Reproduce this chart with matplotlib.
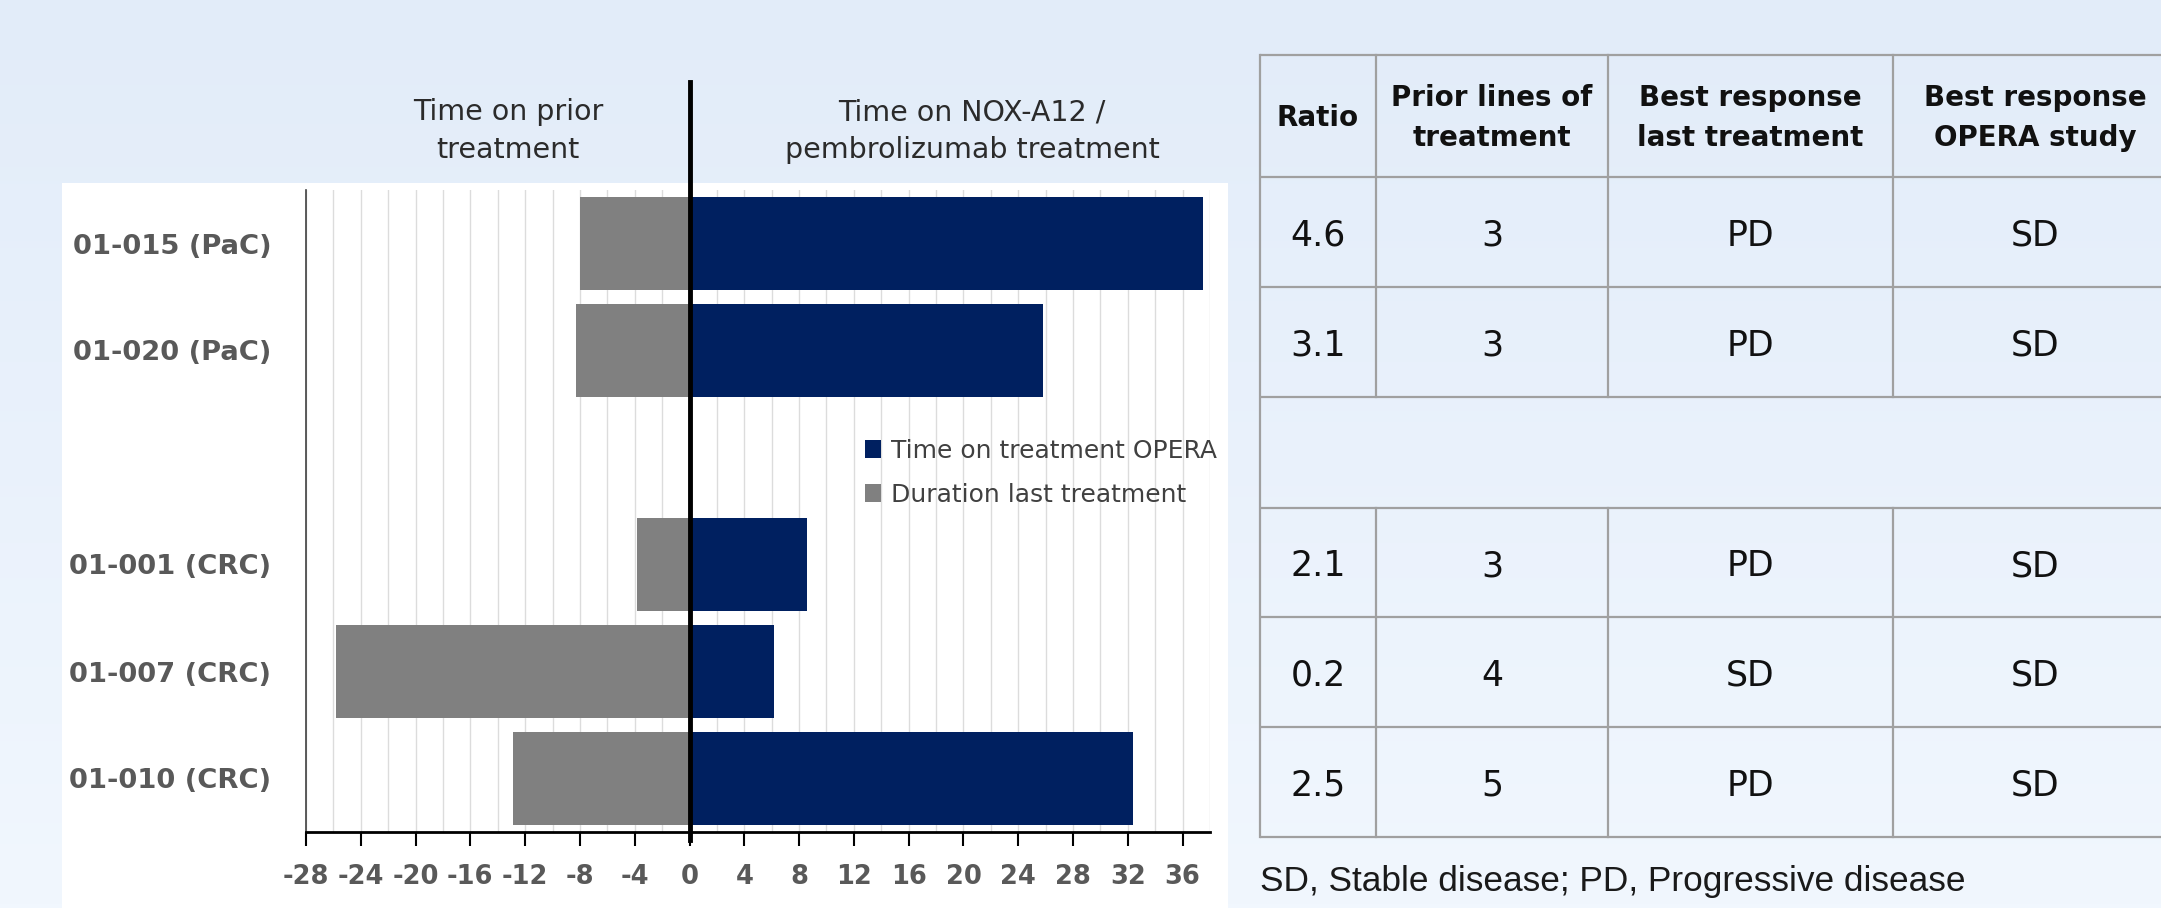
import numpy as np
import matplotlib
matplotlib.use("Agg")
import matplotlib.pyplot as plt
from matplotlib.patches import Rectangle

# ---------------- data ----------------
patients = ["01-015 (PaC)", "01-020 (PaC)", "", "01-001 (CRC)", "01-007 (CRC)", "01-010 (CRC)"]
time_opera = [37.5, 25.8, np.nan, 8.6, 6.2, 32.4]          # months on NOX-A12 / pembrolizumab
duration_last = [8.0, 8.3, np.nan, 3.8, 25.8, 12.9]        # months on prior treatment
x_ticks = list(range(-28, 37, 4))

table_header = ["Ratio", "Prior lines of\ntreatment", "Best response\nlast treatment", "Best response\nOPERA study"]
tbl_ratio = ["4.6", "3.1", None, "2.1", "0.2", "2.5"]
tbl_prior_lines = ["3", "3", None, "3", "4", "5"]
tbl_best_last = ["PD", "PD", None, "PD", "SD", "PD"]
tbl_best_opera = ["SD", "SD", None, "SD", "SD", "SD"]
footnote = "SD, Stable disease; PD, Progressive disease"

legend_labels = ["Time on treatment OPERA", "Duration last treatment"]

BLUE = "#002060"
GRAY = "#808080"

W, H = 2161, 908
fig = plt.figure(figsize=(W / 100, H / 100), dpi=100)

# ---------------- background overlay (pixel coordinates) ----------------
bg = fig.add_axes([0, 0, 1, 1], zorder=0)
bg.set_xlim(0, W)
bg.set_ylim(H, 0)
bg.axis("off")
top_c = np.array([226, 236, 249]) / 255
bot_c = np.array([241, 247, 254]) / 255
t = np.linspace(0, 1, 256)[:, None]
grad = top_c[None, None, :] * (1 - t[:, :, None]) + bot_c[None, None, :] * t[:, :, None]
grad = np.repeat(grad, 2, axis=1)
bg.imshow(grad, extent=(0, W, H, 0), aspect="auto", zorder=0)
bg.add_patch(Rectangle((62, 183), 1228 - 62, H - 183, facecolor="white", edgecolor="none", zorder=1))

# titles above chart
bg.text(508, 131, "Time on prior\ntreatment", ha="center", va="center", fontsize=20.5,
        color="#2b2b2b", linespacing=1.45, zorder=2)
bg.text(972, 131, "Time on NOX-A12 /\npembrolizumab treatment", ha="center", va="center",
        fontsize=20.5, color="#2b2b2b", linespacing=1.45, zorder=2)

# ---------------- table ----------------
col_x = [1260, 1376, 1608, 1893, 2177]
row_y = [55, 177, 287, 397, 508, 617, 727, 837]
lc = "#A0A0A0"
lw = 1.6
for y in row_y:
    bg.plot([col_x[0], col_x[-1]], [y, y], color=lc, lw=lw, zorder=2, solid_capstyle="butt")
bg.plot([col_x[0], col_x[0]], [row_y[0], row_y[-1]], color=lc, lw=lw, zorder=2)
for cx in col_x[1:]:
    # no inner verticals in the empty (merged) row
    bg.plot([cx, cx], [row_y[0], row_y[3]], color=lc, lw=lw, zorder=2)
    bg.plot([cx, cx], [row_y[4], row_y[-1]], color=lc, lw=lw, zorder=2)

centers_x = [(col_x[i] + col_x[i + 1]) / 2 for i in range(4)]
for i, h in enumerate(table_header):
    bg.text(centers_x[i], (row_y[0] + row_y[1]) / 2 + 2, h, ha="center", va="center",
            fontsize=20, fontweight="bold", color="#111111", linespacing=1.5, zorder=3)

columns = [tbl_ratio, tbl_prior_lines, tbl_best_last, tbl_best_opera]
for r in range(6):
    yc = (row_y[r + 1] + row_y[r + 2]) / 2 + 4
    for c, col in enumerate(columns):
        if col[r] is not None:
            bg.text(centers_x[c], yc, col[r], ha="center", va="center", fontsize=25,
                    color="#111111", zorder=3)

bg.text(1260, 882, footnote, ha="left", va="center", fontsize=25.4, color="#1a1a1a",
        family=["Liberation Sans", "DejaVu Sans"], zorder=3)

# ---------------- chart ----------------
ax = fig.add_axes([306 / W, 1 - 832 / H, (1210 - 306) / W, (832 - 190) / H], zorder=1)
ax.set_facecolor("white")
ypos = np.arange(len(patients))
ax.barh(ypos, time_opera, height=0.87, color=BLUE, zorder=3, label=legend_labels[0])
ax.barh(ypos, -np.array(duration_last), height=0.87, color=GRAY, zorder=3, label=legend_labels[1])

ax.set_xlim(-28, 38)
ax.set_ylim(len(patients) - 0.5, -0.5)
ax.set_xticks(x_ticks)
ax.set_xticks(np.arange(-28, 39, 2), minor=True)
ax.set_xticklabels([str(v) for v in x_ticks])
ax.set_yticks(ypos)
ax.set_yticklabels(patients)
ax.grid(True, axis="x", which="both", color="#DCDCDC", lw=1, zorder=0)
ax.set_axisbelow(True)

ax.tick_params(axis="x", which="major", direction="out", length=10, width=1.5, color="black",
               labelsize=18.5, labelcolor="#595959", pad=13)
ax.tick_params(axis="x", which="minor", length=0)
ax.tick_params(axis="y", length=0, labelsize=19.7, labelcolor="#595959", pad=25)
for lab in ax.get_xticklabels() + ax.get_yticklabels():
    lab.set_fontweight("bold")

for s in ["top", "right"]:
    ax.spines[s].set_visible(False)
ax.spines["left"].set_color("#404040")
ax.spines["left"].set_linewidth(1.2)
ax.spines["bottom"].set_color("black")
ax.spines["bottom"].set_linewidth(2)
ax.spines["bottom"].set_zorder(5)

ax.axvline(0, ymin=-0.012, ymax=1.168, color="black", lw=3.5, clip_on=False, zorder=6)

handles, labels = ax.get_legend_handles_labels()
leg = ax.legend(handles, labels, loc="upper left", bbox_to_anchor=(865 / W, 1 - 439 / H),
                bbox_transform=fig.transFigure, frameon=False, fontsize=18, borderpad=0,
                borderaxespad=0, handlelength=0.65, handleheight=0.75, handletextpad=0.4,
                labelspacing=0.8, labelcolor="#404040")

fig.savefig("out.png", dpi=100)
